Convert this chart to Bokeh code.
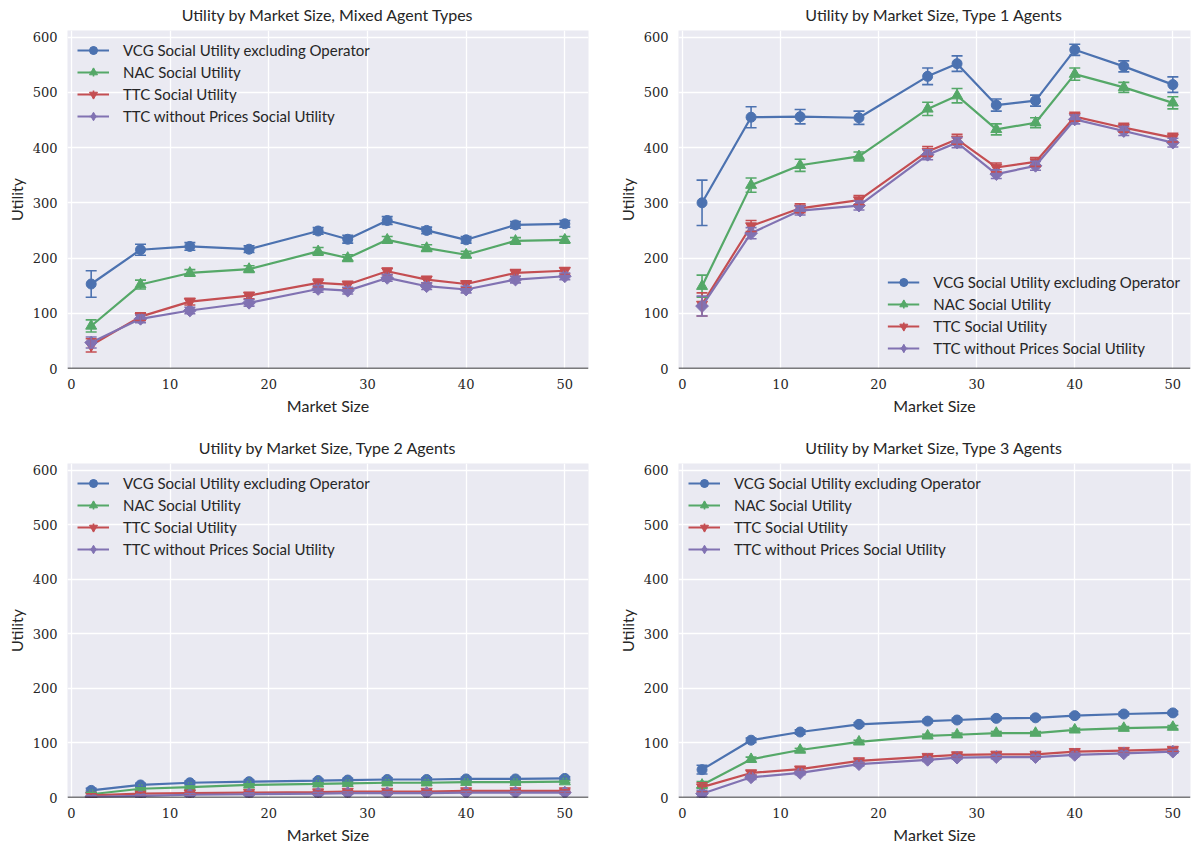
import math
from bokeh.plotting import figure
from bokeh.models import (ColumnDataSource, Whisker, TeeHead, Span, Legend,
                          LegendItem, Range1d, FixedTicker)
from bokeh.layouts import gridplot
from bokeh.embed import file_html
from bokeh.resources import INLINE

# ---------------- data ----------------
market_size = [2, 7, 12, 18, 25, 28, 32, 36, 40, 45, 50]
series_names = ["VCG Social Utility excluding Operator", "NAC Social Utility",
                "TTC Social Utility", "TTC without Prices Social Utility"]
x_ticks = [0, 10, 20, 30, 40, 50]
y_ticks = [0, 100, 200, 300, 400, 500, 600]

panel_titles = ["Utility by Market Size, Mixed Agent Types",
                "Utility by Market Size, Type 1 Agents",
                "Utility by Market Size, Type 2 Agents",
                "Utility by Market Size, Type 3 Agents"]

# Mixed agent types
mixed_vcg = [153, 215, 221, 216, 249, 234, 268, 250, 233, 260, 262]
mixed_vcg_err = [24, 10, 7, 6, 6, 7, 7, 6, 6, 6, 6]
mixed_nac = [77, 152, 173, 180, 212, 200, 233, 218, 206, 231, 233]
mixed_nac_err = [11, 8, 6, 6, 7, 6, 6, 6, 6, 6, 6]
mixed_ttc = [42, 94, 121, 132, 155, 152, 176, 161, 153, 173, 177]
mixed_ttc_err = [12, 7, 6, 6, 7, 6, 6, 6, 6, 6, 6]
mixed_ttcw = [47, 90, 105, 119, 144, 141, 164, 149, 143, 161, 167]
mixed_ttcw_err = [10, 7, 6, 6, 6, 6, 6, 6, 6, 6, 6]

# Type 1 agents
t1_vcg = [300, 455, 456, 454, 529, 552, 477, 485, 577, 547, 514]
t1_vcg_err = [41, 19, 13, 12, 15, 14, 11, 10, 10, 10, 14]
t1_nac = [149, 332, 368, 384, 470, 494, 433, 445, 533, 509, 481]
t1_nac_err = [20, 13, 11, 8, 12, 13, 10, 9, 11, 9, 11]
t1_ttc = [116, 258, 290, 305, 393, 415, 364, 374, 456, 436, 418]
t1_ttc_err = [21, 10, 8, 8, 9, 9, 8, 8, 8, 8, 8]
t1_ttcw = [113, 245, 286, 295, 387, 409, 352, 367, 451, 430, 409]
t1_ttcw_err = [18, 10, 8, 8, 9, 9, 8, 8, 8, 8, 8]

# Type 2 agents
t2_vcg = [13, 23, 27, 29, 31, 32, 33, 33, 34, 34, 35]
t2_vcg_err = [4, 3, 3, 3, 3, 3, 3, 3, 3, 3, 3]
t2_nac = [6, 16, 19, 23, 25, 26, 27, 27, 28, 28, 29]
t2_nac_err = [3, 2, 2, 2, 2, 2, 2, 2, 2, 2, 2]
t2_ttc = [4, 7, 8, 9, 10, 11, 11, 11, 12, 12, 12]
t2_ttc_err = [3, 2, 2, 2, 2, 2, 2, 2, 2, 2, 2]
t2_ttcw = [1, 3, 5, 6, 7, 8, 8, 8, 9, 9, 9]
t2_ttcw_err = [2, 2, 2, 2, 2, 2, 2, 2, 2, 2, 2]

# Type 3 agents
t3_vcg = [51, 105, 120, 134, 140, 142, 145, 146, 150, 153, 155]
t3_vcg_err = [8, 4, 4, 3, 3, 3, 3, 3, 3, 3, 3]
t3_nac = [23, 70, 87, 102, 113, 115, 118, 118, 124, 127, 129]
t3_nac_err = [6, 4, 3, 3, 3, 3, 3, 3, 3, 3, 3]
t3_ttc = [19, 45, 52, 67, 75, 78, 79, 79, 84, 86, 88]
t3_ttc_err = [8, 4, 4, 3, 3, 3, 3, 3, 3, 3, 3]
t3_ttcw = [7, 37, 45, 61, 69, 73, 74, 74, 78, 81, 84]
t3_ttcw_err = [6, 4, 3, 3, 3, 3, 3, 3, 3, 3, 3]

panels_data = [
    [(mixed_vcg, mixed_vcg_err), (mixed_nac, mixed_nac_err), (mixed_ttc, mixed_ttc_err), (mixed_ttcw, mixed_ttcw_err)],
    [(t1_vcg, t1_vcg_err), (t1_nac, t1_nac_err), (t1_ttc, t1_ttc_err), (t1_ttcw, t1_ttcw_err)],
    [(t2_vcg, t2_vcg_err), (t2_nac, t2_nac_err), (t2_ttc, t2_ttc_err), (t2_ttcw, t2_ttcw_err)],
    [(t3_vcg, t3_vcg_err), (t3_nac, t3_nac_err), (t3_ttc, t3_ttc_err), (t3_ttcw, t3_ttcw_err)],
]
legend_locations = ["top_left", "bottom_right", "top_left", "top_left"]

# ---------------- style ----------------
colors = ["#4C72B0", "#55A868", "#C44E52", "#8172B2"]
markers = ["circle", "triangle", "inverted_triangle", "square"]
legend_markers = ["circle", "triangle", "inverted_triangle", "diamond"]
marker_sizes = [10, 11, 11, 9]
legend_marker_sizes = [10, 11, 11, 15]
marker_angles = [0, 0, 0, math.pi / 4]
SANS = "Lato"
SERIF = "DejaVu Serif"


def make_panel(title, data, legend_loc, width, height, left, right, top, bottom, x_end):
    p = figure(width=width, height=height, output_backend="svg", toolbar_location=None,
               x_range=Range1d(-0.4, x_end), y_range=Range1d(0, 612),
               min_border_left=left, min_border_right=right,
               min_border_top=top, min_border_bottom=bottom)
    p.background_fill_color = "#EAEAF2"
    p.border_fill_color = "white"
    p.outline_line_color = None

    p.title.text = title
    p.title.text_font = SANS
    p.title.text_font_size = "16px"
    p.title.text_font_style = "normal"
    p.title.text_color = "#262626"
    p.title.align = "center"
    p.title.vertical_align = "top"
    p.title.standoff = 9

    for ax in (p.xaxis[0], p.yaxis[0]):
        ax.axis_line_color = None
        ax.major_tick_line_color = None
        ax.minor_tick_line_color = None
        ax.major_tick_out = 0
        ax.major_tick_in = 0
        ax.minor_tick_out = 0
        ax.major_label_text_font = SERIF
        ax.major_label_text_font_size = "13px"
        ax.major_label_text_color = "#262626"
        ax.axis_label_text_font = SANS
        ax.axis_label_text_font_size = "16px"
        ax.axis_label_text_font_style = "normal"
        ax.axis_label_text_color = "#262626"
    p.xaxis.ticker = FixedTicker(ticks=x_ticks)
    p.yaxis.ticker = FixedTicker(ticks=y_ticks)
    p.xaxis.axis_label = "Market Size"
    p.yaxis.axis_label = "Utility"
    p.xaxis.major_label_standoff = 10
    p.xaxis.axis_label_standoff = 4
    p.yaxis.major_label_standoff = 10
    p.yaxis.axis_label_standoff = 4

    p.grid.grid_line_color = "white"
    p.grid.grid_line_width = 1.3
    p.xgrid.ticker = FixedTicker(ticks=x_ticks)
    p.ygrid.ticker = FixedTicker(ticks=y_ticks)

    items = []
    nan = float("nan")
    for i, (vals, errs) in enumerate(data):
        c = colors[i]
        src = ColumnDataSource(dict(
            x=market_size, y=vals,
            upper=[v + e for v, e in zip(vals, errs)],
            lower=[v - e for v, e in zip(vals, errs)]))
        stem = p.scatter(x=[nan], y=[nan], marker="cross", size=20,
                         line_color=c, line_width=1.6)
        ln = p.line("x", "y", source=src, line_color=c, line_width=2.2)
        p.scatter("x", "y", source=src, marker=markers[i], size=marker_sizes[i],
                  angle=marker_angles[i], fill_color=c, line_color=c)
        lm = p.scatter(x=[nan], y=[nan], marker=legend_markers[i], size=legend_marker_sizes[i],
                       fill_color=c, line_color=c)
        wh = Whisker(source=src, base="x", upper="upper", lower="lower",
                     line_color=c, line_width=1.6, level="glyph",
                     upper_head=TeeHead(size=11, line_color=c, line_width=1.6),
                     lower_head=TeeHead(size=11, line_color=c, line_width=1.6))
        p.add_layout(wh)
        items.append(LegendItem(label=series_names[i], renderers=[stem, ln, lm]))

    zero = Span(location=0, dimension="width", line_color="black", line_width=1.6)
    p.add_layout(zero)

    leg = Legend(items=items, location=legend_loc)
    leg.margin = 10
    leg.padding = 0
    leg.spacing = 2
    leg.glyph_width = 32
    leg.glyph_height = 20
    leg.label_height = 20
    leg.label_standoff = 14
    leg.label_text_font = SANS
    leg.label_text_font_size = "15px"
    leg.label_text_color = "#262626"
    leg.border_line_color = None
    leg.background_fill_alpha = 0
    p.add_layout(leg, "center")
    return p


p1 = make_panel(panel_titles[0], panels_data[0], legend_locations[0], 614, 433, 67, 26, 28, 65, 52.4)
p2 = make_panel(panel_titles[1], panels_data[1], legend_locations[1], 577, 433, 62, 1, 28, 65, 51.8)
p3 = make_panel(panel_titles[2], panels_data[2], legend_locations[2], 614, 413, 67, 26, 28, 46, 52.4)
p4 = make_panel(panel_titles[3], panels_data[3], legend_locations[3], 577, 413, 62, 1, 28, 46, 51.8)

grid = gridplot([[p1, p2], [p3, p4]], toolbar_location=None)

open("out.html", "w").write(file_html(grid, INLINE))
